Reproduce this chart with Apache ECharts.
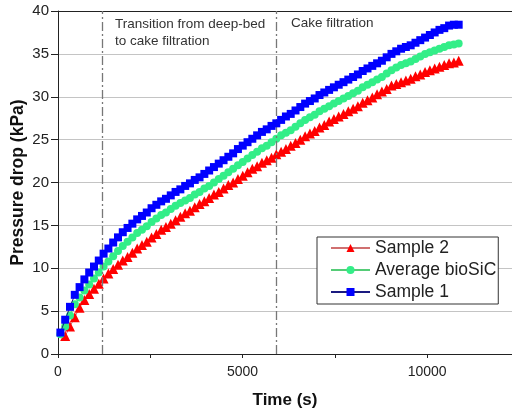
<!DOCTYPE html>
<html>
<head>
<meta charset="utf-8">
<script src="https://cdn.jsdelivr.net/npm/echarts@6/dist/echarts.min.js"></script>
<style>
  html, body { margin: 0; padding: 0; background: #fff; }
  #chart { width: 512px; height: 414px; }
</style>
</head>
<body>
<div id="chart"></div>
<script>
// time stamps (s)
var times = [65, 195, 325, 455, 585, 715, 845, 975, 1105, 1235, 1365, 1495, 1625, 1755, 1885, 2015,
  2145, 2275, 2405, 2535, 2665, 2795, 2925, 3055, 3185, 3315, 3445, 3575, 3705, 3835, 3965, 4095,
  4225, 4355, 4485, 4615, 4745, 4875, 5005, 5135, 5265, 5395, 5525, 5655, 5785, 5915, 6045, 6175,
  6305, 6435, 6565, 6695, 6825, 6955, 7085, 7215, 7345, 7475, 7605, 7735, 7865, 7995, 8125, 8255,
  8385, 8515, 8645, 8775, 8905, 9035, 9165, 9295, 9425, 9555, 9685, 9815, 9945, 10075, 10205, 10335,
  10465, 10595, 10725, 10855];

// pressure drop (kPa)
var sample1 = [2.5, 4.0, 5.5, 6.9, 7.8, 8.7, 9.5, 10.2, 10.9, 11.7, 12.3, 13.0, 13.6, 14.2, 14.7, 15.2,
  15.7, 16.1, 16.5, 17.0, 17.4, 17.8, 18.1, 18.5, 18.9, 19.2, 19.6, 19.9, 20.3, 20.6, 21.0, 21.4,
  21.8, 22.2, 22.6, 23.0, 23.4, 23.9, 24.3, 24.7, 25.1, 25.5, 25.9, 26.2, 26.6, 26.9, 27.3, 27.7,
  28.0, 28.4, 28.8, 29.2, 29.5, 29.8, 30.2, 30.5, 30.8, 31.1, 31.4, 31.7, 32.0, 32.3, 32.6, 33.0,
  33.3, 33.6, 33.9, 34.2, 34.6, 35.0, 35.3, 35.6, 35.8, 36.0, 36.3, 36.6, 36.9, 37.2, 37.5, 37.8,
  38.0, 38.3, 38.4, 38.4];

var averageBioSiC = [2.3, 3.2, 4.5, 5.8, 6.6, 7.4, 8.1, 8.8, 9.5, 10.2, 10.8, 11.4, 12.0, 12.6, 13.1, 13.6,
  14.1, 14.5, 14.9, 15.4, 15.8, 16.2, 16.5, 16.9, 17.3, 17.6, 17.9, 18.2, 18.6, 18.9, 19.3, 19.6,
  20.0, 20.4, 20.8, 21.2, 21.6, 22.0, 22.4, 22.8, 23.2, 23.6, 24.0, 24.3, 24.7, 25.1, 25.5, 25.8,
  26.1, 26.5, 26.9, 27.3, 27.6, 27.9, 28.3, 28.6, 28.9, 29.2, 29.5, 29.8, 30.1, 30.4, 30.7, 31.1,
  31.4, 31.7, 32.0, 32.3, 32.7, 33.1, 33.4, 33.7, 33.9, 34.1, 34.4, 34.7, 35.0, 35.2, 35.4, 35.6,
  35.8, 36.0, 36.1, 36.2];

var sample2 = [null, 2.1, 3.2, 4.3, 5.4, 6.3, 7.0, 7.6, 8.2, 8.8, 9.4, 9.9, 10.4, 10.9, 11.3, 11.8,
  12.3, 12.7, 13.1, 13.6, 14.0, 14.5, 14.8, 15.2, 15.6, 16.0, 16.4, 16.7, 17.1, 17.5, 17.8, 18.2,
  18.6, 18.9, 19.3, 19.7, 20.0, 20.4, 20.8, 21.2, 21.6, 21.9, 22.3, 22.6, 22.9, 23.3, 23.6, 23.9,
  24.3, 24.6, 25.0, 25.4, 25.7, 26.0, 26.4, 26.7, 27.1, 27.4, 27.7, 28.0, 28.3, 28.6, 28.9, 29.3,
  29.6, 29.9, 30.3, 30.6, 30.9, 31.3, 31.5, 31.7, 31.9, 32.1, 32.4, 32.6, 32.9, 33.1, 33.3, 33.5,
  33.7, 33.9, 34.0, 34.2];

// phase boundaries (s)
var phaseLines = [1200, 5900];

var font = 'Liberation Sans, Arial, sans-serif';

function pairs(values) {
  return times.map(function (t, i) { return [t, values[i]]; });
}

var chart = echarts.init(document.getElementById('chart'), null, { renderer: 'canvas' });

var option = {
  animation: false,
  backgroundColor: '#fff',
  grid: { left: 58, top: 11, right: 0, bottom: 60, containLabel: false, outerBoundsMode: 'none' },
  legend: {
    orient: 'vertical',
    left: 317,
    top: 237,
    padding: [2, 2, 3, 13],
    itemGap: 4,
    itemWidth: 39,
    itemHeight: 10,
    borderColor: '#333',
    borderWidth: 1,
    backgroundColor: '#fff',
    textStyle: { fontFamily: font, fontSize: 17.5, color: '#222', lineHeight: 18 },
    data: ['Sample 2', 'Average bioSiC', 'Sample 1']
  },
  xAxis: [{
    type: 'value',
    min: 0,
    max: 12300,
    interval: 2500,
    name: 'Time (s)',
    nameLocation: 'middle',
    nameGap: 38,
    nameMoveOverlap: false,
    nameTextStyle: { fontFamily: font, fontSize: 17, fontWeight: 'bold', color: '#111' },
    axisLine: { show: true, onZero: false, lineStyle: { color: '#222', width: 1 } },
    axisTick: { show: true, length: 4, lineStyle: { color: '#222' } },
    axisLabel: {
      fontFamily: font, fontSize: 14, color: '#222', margin: 11,
      showMaxLabel: false,
      formatter: function (v) { return v % 5000 === 0 ? String(v) : ''; }
    },
    splitLine: { show: false }
  }, {
    type: 'value',
    position: 'top',
    min: 0,
    max: 12300,
    axisLine: { show: true, onZero: false, lineStyle: { color: '#222', width: 1 } },
    axisTick: { show: false },
    axisLabel: { show: false },
    splitLine: { show: false }
  }],
  yAxis: {
    type: 'value',
    min: 0,
    max: 40,
    interval: 5,
    name: 'Pressure drop (kPa)',
    nameLocation: 'middle',
    nameGap: 31,
    nameMoveOverlap: false,
    nameTextStyle: { fontFamily: font, fontSize: 17.5, fontWeight: 'bold', color: '#111' },
    axisLine: { show: true, onZero: false, lineStyle: { color: '#222', width: 1 } },
    axisTick: { show: true, length: 7, lineStyle: { color: '#222' } },
    axisLabel: { fontFamily: font, fontSize: 15, color: '#222', margin: 9 },
    splitLine: { show: true, lineStyle: { color: '#c4c4c4', width: 1 } }
  },
  graphic: [{
    type: 'text',
    left: 115,
    top: 16,
    style: {
      text: 'Transition from deep-bed\nto cake filtration',
      font: '13.5px ' + font,
      lineHeight: 17,
      fill: '#333'
    }
  }, {
    type: 'text',
    left: 291,
    top: 16,
    style: { text: 'Cake filtration', font: '13.5px ' + font, fill: '#333' }
  }],
  series: [{
    name: 'Sample 2',
    type: 'line',
    data: pairs(sample2),
    symbol: 'triangle',
    symbolSize: 10,
    showAllSymbol: true,
    itemStyle: { color: '#ff0000' },
    lineStyle: { color: '#d07070', width: 1 },
    markLine: {
      silent: true,
      symbol: 'none',
      label: { show: false },
      lineStyle: { color: '#777', width: 1.3, type: [9, 3, 2, 3] },
      data: phaseLines.map(function (t) { return { xAxis: t }; })
    },
    z: 3
  }, {
    name: 'Average bioSiC',
    type: 'line',
    data: pairs(averageBioSiC),
    symbol: 'circle',
    symbolSize: 8,
    showAllSymbol: true,
    itemStyle: { color: '#33ee88' },
    lineStyle: { color: '#55cc77', width: 1 },
    z: 4
  }, {
    name: 'Sample 1',
    type: 'line',
    data: pairs(sample1),
    symbol: 'rect',
    symbolSize: 8,
    showAllSymbol: true,
    itemStyle: { color: '#0000ff' },
    lineStyle: { color: '#1a1a80', width: 1 },
    z: 5
  }]
};

chart.setOption(option);
</script>
</body>
</html>
